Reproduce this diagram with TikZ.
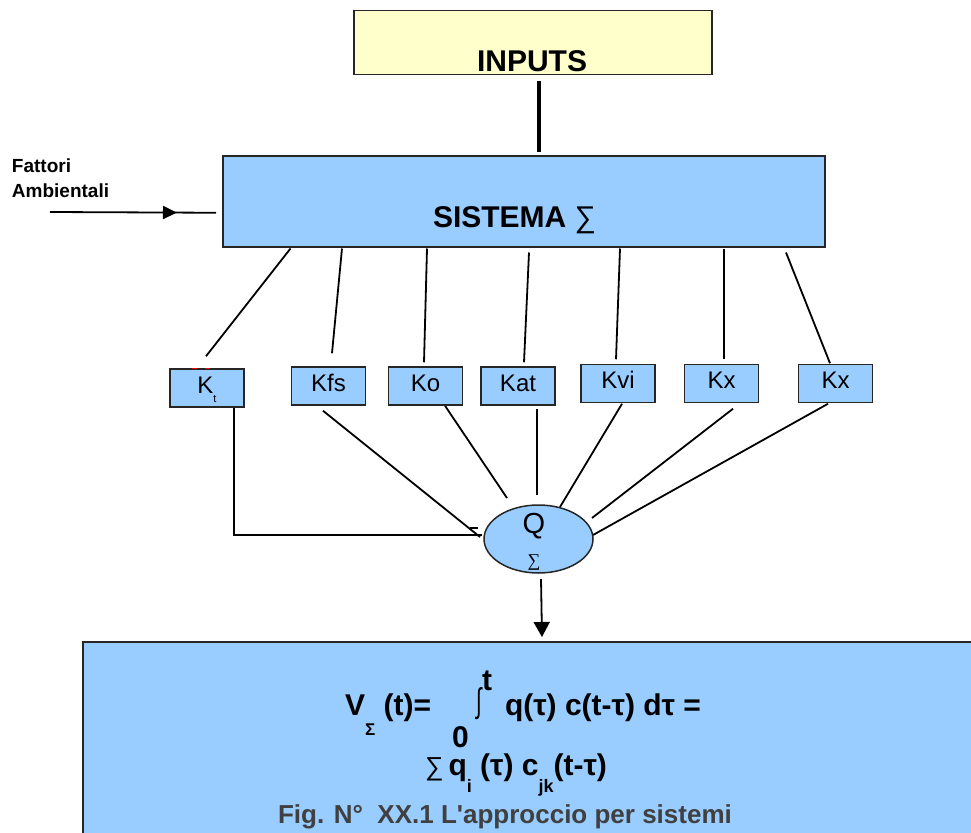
\documentclass[tikz,border=0pt]{standalone}
\usepackage{fontspec}
\setmainfont{Liberation Sans}
\newfontfamily\serifsym{Liberation Serif}
\usetikzlibrary{arrows.meta,calc,decorations.markings,shapes.geometric,backgrounds}
\definecolor{boxblue}{HTML}{99CCFF}
\definecolor{inyellow}{HTML}{FFFFCC}
\definecolor{capgray}{HTML}{404040}
\newcommand\fsz[1]{\fontsize{#1}{#1}\selectfont}

\begin{document}
\begin{tikzpicture}[x=1pt,y=-1pt,
  box/.style={draw=black!85, line width=1.5pt, fill=boxblue, inner sep=0pt},
  kbox/.style={box, minimum width=74pt, minimum height=38pt,
    text height=16pt, text depth=6pt, font=\fsz{24}},
  wire/.style={line width=1.8pt, draw=black},
  txt/.style={inner sep=0pt, outer sep=0pt},
  bigtxt/.style={txt, font=\fsz{30}\bfseries}
]
\useasboundingbox (0,0) rectangle (971,832);

% --- boxes ---
\node[box, fill=inyellow, anchor=north west, minimum width=358pt, minimum height=64pt] (inbox) at (353,10) {};
\node[bigtxt, anchor=base] (intext) at (532,72) {INPUTS};

\node[box, anchor=north west, minimum width=602pt, minimum height=91pt] (sys) at (222,155) {};
\node[bigtxt, anchor=base west] (systext) at (433,227) {SISTEMA {\mdseries ∑}};

\node[txt, anchor=base west, font=\fsz{19}\bfseries] (fat1) at (12,172) {Fattori};
\node[txt, anchor=base west, font=\fsz{19}\bfseries] (fat2) at (12,197) {Ambientali};
\coordinate (envsrc) at (50,212);

\node[kbox] (kt)  at (207,388)   {K\raisebox{-9pt}{\fsz{11}t}};
\node[kbox] (kfs) at (328.5,386) {Kfs};
\node[kbox] (ko)  at (425.5,386) {Ko};
\node[kbox] (kat) at (518,386)   {Kat};
\node[kbox] (kvi) at (618,383.5) {Kvi};
\node[kbox] (kx1) at (721.5,383.5) {Kx};
\node[kbox] (kx2) at (835.5,383.5) {Kx};

\node[box, ellipse, minimum width=109pt, minimum height=68pt] (q) at (538.5,539) {};
\node[txt, anchor=base, font=\fsz{29}] (qtext) at (534,533) {Q};
\node[txt, anchor=center, font=\serifsym\fsz{18}] (qsum) at (534,563) {∑};

\node[box, line width=2pt, anchor=north west, minimum width=920pt, minimum height=220pt] (bot) at (82,641) {};

% --- formula ---
\node[bigtxt, anchor=base west] (f1) at (345,715) {V\raisebox{-20pt}{\fsz{17}Σ}\ (t)=};
\node[bigtxt, anchor=base west] (f0) at (452,747) {0};
\node[txt, anchor=center, font=\fsz{34}] (fint) at (479,704) {\scalebox{0.6}[1]{∫}};
\node[bigtxt, anchor=base west] (ft) at (482,690) {t};
\node[bigtxt, anchor=base west] (f2) at (505,715) {q(τ) c(t-τ) dτ =};
\node[bigtxt, anchor=base west] (f3) at (425,775)
  {{\mdseries\fsz{26}∑}\kern5pt q\raisebox{-17pt}{\fsz{18}i}\ (τ) c\raisebox{-17pt}{\fsz{18}jk}(t-τ)};
\node[txt, anchor=base west, font=\fsz{26}\bfseries, text=capgray] (cap) at (278,823)
  {Fig. N°\ \ XX.1 L\textquotesingle approccio per sistemi};

% --- connectors ---
\begin{scope}[on background layer]
  \draw[line width=4pt] ([xshift=6pt,yshift=-6pt]inbox.south) -- ([xshift=15pt,yshift=3pt]sys.north);

  \draw[wire, postaction={decorate}, decoration={markings,
      mark=at position 0.765 with {\arrow{Triangle[length=14pt,width=13pt]}}}]
    (envsrc) -- ([xshift=-6pt,yshift=-11.5pt]sys.west);

  \draw[wire] ([xshift=68.5pt,yshift=-1pt]sys.south west) -- ([xshift=-1pt,yshift=12pt]kt.north);
  \draw[wire] ([xshift=120pt,yshift=-1pt]sys.south west) -- ([xshift=3.5pt,yshift=13pt]kfs.north);
  \draw[wire] ([xshift=205pt,yshift=-1pt]sys.south west) -- ([xshift=-1.5pt,yshift=4pt]ko.north);
  \draw[wire] ([xshift=307pt,yshift=-5pt]sys.south west) -- ([xshift=6pt,yshift=4pt]kat.north);
  \draw[wire] ([xshift=398pt,yshift=-1pt]sys.south west) -- ([xshift=-2pt,yshift=4.5pt]kvi.north);
  \draw[wire] ([xshift=502pt,yshift=-1pt]sys.south west) -- ([xshift=2.5pt,yshift=4.5pt]kx1.north);
  \draw[wire] ([xshift=564pt,yshift=-5pt]sys.south west) -- ([xshift=-5.5pt,yshift=0.5pt]kx2.north);

  \draw[wire] ([xshift=27pt]kt.south) |- ([xshift=-56.5pt,yshift=4pt]q.center);
  \draw[wire] ([xshift=-68.5pt,yshift=11pt]q.center) -- ([xshift=-60.5pt,yshift=11pt]q.center);
  \draw[wire] ([xshift=-5.5pt,yshift=-5pt]kfs.south) -- ([xshift=-58.5pt,yshift=2pt]q.center);
  \draw[wire] ([xshift=19.5pt]ko.south) -- ([xshift=-31.5pt,yshift=41pt]q.center);
  \draw[wire] ([xshift=19pt,yshift=-3pt]kat.south) -- ([xshift=-1.5pt,yshift=44pt]q.center);
  \draw[wire] ([xshift=4pt,yshift=-0.5pt]kvi.south) -- ([xshift=21.5pt,yshift=32pt]q.center);
  \draw[wire] ([xshift=11.5pt,yshift=-5.5pt]kx1.south) -- ([xshift=53.5pt,yshift=21pt]q.center);
  \draw[wire] ([xshift=-7.5pt,yshift=-0.5pt]kx2.south) -- ([xshift=54.5pt,yshift=4pt]q.center);

  \draw[wire, -{Triangle[length=15pt,width=16pt]}]
    ([xshift=2.5pt,yshift=-40pt]q.center) -- ([xshift=-1pt,yshift=4pt]bot.north);
\end{scope}

% small red mark on the Kt box
\draw[red, line width=1pt] ([xshift=-15pt]kt.north) -- ([xshift=-10pt]kt.north);
\draw[red, line width=1pt] ([xshift=-2pt]kt.north) -- ([xshift=3pt]kt.north);
\end{tikzpicture}
\end{document}
